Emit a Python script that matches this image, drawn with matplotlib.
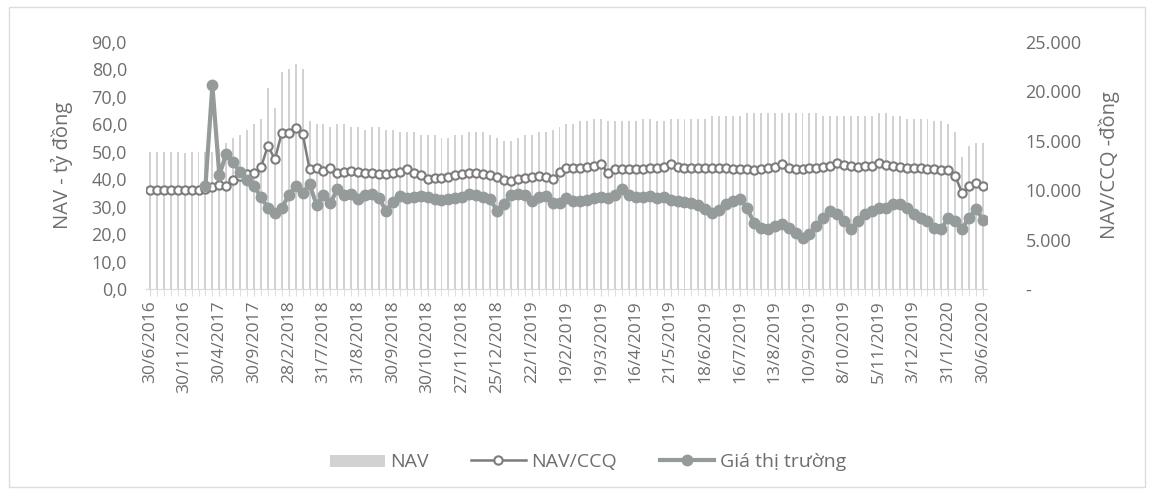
import numpy as np
import matplotlib
matplotlib.use("Agg")
import matplotlib.pyplot as plt
from matplotlib.ticker import FuncFormatter, MultipleLocator
from matplotlib.patches import Rectangle

plt.rcParams['font.family'] = ['Open Sans', 'DejaVu Sans']

# --- data ---
tick_labels = ['30/6/2016', '30/11/2016', '30/4/2017', '30/9/2017', '28/2/2018',
               '31/7/2018', '31/8/2018', '30/9/2018', '30/10/2018', '27/11/2018',
               '25/12/2018', '22/1/2019', '19/2/2019', '19/3/2019', '16/4/2019',
               '21/5/2019', '18/6/2019', '16/7/2019', '13/8/2019', '10/9/2019',
               '8/10/2019', '5/11/2019', '3/12/2019', '31/1/2020', '30/6/2020']

# NAV (ty dong) - bars, left axis
nav = [50, 50, 50, 50, 50, 49.5, 50, 50, 50, 50,
       51, 53, 55, 56, 58, 60, 62, 73, 66, 79,
       80, 82, 80, 61, 60, 60, 59, 60, 60, 59,
       59, 58, 59, 59, 58, 58, 57, 57, 57, 56,
       56, 56, 55, 55, 56, 56, 57, 57, 57, 56,
       55, 54, 54, 55, 56, 56, 57, 57, 58, 59,
       60, 60, 61, 61, 62, 62, 61, 61, 61, 61,
       61, 62, 62, 61, 61, 62, 62, 62, 62, 62,
       62, 63, 63, 63, 63, 63, 64, 64, 64, 64,
       64, 64, 64, 64, 64, 64, 64, 63, 63, 63,
       63, 63, 63, 63, 63, 64, 64, 63, 63, 62,
       62, 62, 62, 61, 61, 60, 57, 48, 52, 53,
       53]

# NAV/CCQ (dong) - right axis
nav_ccq = [10000, 10000, 10000, 10000, 10000, 10000, 10000, 10000, 10100, 10300,
           10500, 10400, 11000, 11400, 11600, 11700, 12300, 14500, 13100, 15800,
           15800, 16300, 15700, 12100, 12200, 11900, 12200, 11700, 11800, 11900,
           11800, 11700, 11700, 11600, 11600, 11700, 11800, 12100, 11700, 11500,
           11100, 11200, 11200, 11300, 11500, 11600, 11700, 11700, 11600, 11500,
           11300, 11000, 10900, 11100, 11200, 11300, 11400, 11300, 11100, 11800,
           12200, 12200, 12200, 12300, 12400, 12600, 11700, 12100, 12100, 12100,
           12100, 12100, 12200, 12200, 12300, 12600, 12300, 12200, 12200, 12200,
           12200, 12200, 12200, 12200, 12100, 12100, 12100, 12000, 12100, 12200,
           12300, 12600, 12200, 12100, 12100, 12200, 12200, 12300, 12400, 12700,
           12500, 12400, 12300, 12400, 12400, 12700, 12500, 12400, 12300, 12200,
           12200, 12200, 12100, 12100, 12000, 12000, 11400, 9700, 10400, 10700,
           10400]

# Gia thi truong (dong) - right axis
gia_tt = [np.nan] * 8 + [
          10400, 20600,
          11500, 13700, 12800, 11800, 11000, 10400, 9300, 8200, 7700, 8200,
          9500, 10400, 9700, 10600, 8500, 9500, 8700, 10100, 9500, 9600,
          9100, 9500, 9600, 9200, 7900, 8800, 9400, 9200, 9300, 9400,
          9300, 9100, 9000, 9100, 9200, 9300, 9600, 9500, 9300, 9100,
          7900, 8600, 9500, 9600, 9500, 8900, 9300, 9400, 8700, 8700,
          9200, 8900, 8900, 9000, 9200, 9300, 9200, 9500, 10100, 9500,
          9300, 9300, 9400, 9200, 9300, 9000, 8900, 8800, 8700, 8500,
          8100, 7700, 8000, 8600, 8900, 9100, 8200, 6700, 6200, 6100,
          6400, 6600, 6200, 5700, 5200, 5600, 6400, 7200, 7900, 7600,
          6900, 6100, 6900, 7600, 7900, 8200, 8200, 8600, 8600, 8200,
          7600, 7200, 6900, 6200, 6100, 7200, 6900, 6100, 7200, 8100,
          7000]

text_col = '#6e6e6e'
x = np.arange(len(nav))

fig = plt.figure(figsize=(11.53, 4.97), dpi=100)
ax = fig.add_axes([0.127, 0.4185, 0.7286, 0.4975])
ax2 = ax.twinx()

# bars - NAV
ax.bar(x, nav, width=0.28, color='#d2d2d2', label='NAV', zorder=1)
ax.set_ylim(0, 90)
ax.set_xlim(-0.5, len(nav) - 0.5)
ax.yaxis.set_major_locator(MultipleLocator(10))
ax.yaxis.set_major_formatter(FuncFormatter(lambda v, p: f"{v:.1f}".replace('.', ',')))

# lines
l1, = ax2.plot(x, nav_ccq, color='#7c7c7c', lw=1.8, marker='o', ms=6,
               mfc='white', mec='#7c7c7c', mew=1.5, label='NAV/CCQ', zorder=3)
l2, = ax2.plot(x, gia_tt, color='#959a9a', lw=3, marker='o', ms=7.5,
               mfc='#959a9a', mec='#959a9a', label='Giá thị trường', zorder=4)
ax2.set_ylim(0, 25000)
ax2.yaxis.set_major_locator(MultipleLocator(5000))
ax2.yaxis.set_major_formatter(FuncFormatter(
    lambda v, p: '-' if v == 0 else f"{int(v):,}".replace(',', '.')))

# x ticks
ax.set_xticks(x[::5])
ax.set_xticklabels(tick_labels, rotation=90)
ax.set_xticks(x, minor=True)
ax.tick_params(axis='x', which='both', length=5, color='#d9d9d9', labelsize=12.5,
               labelcolor=text_col, pad=3)
ax.tick_params(axis='y', length=0, labelsize=13, labelcolor=text_col, pad=14)
ax2.tick_params(axis='y', length=0, labelsize=13, labelcolor=text_col, pad=28)

for a in (ax, ax2):
    for s in a.spines.values():
        s.set_visible(False)
ax.spines['bottom'].set_visible(True)
ax.spines['bottom'].set_color('#d9d9d9')

ax.set_ylabel('NAV - tỷ đồng', fontsize=14.5, color=text_col, labelpad=13)
ax2.set_ylabel('NAV/CCQ -đồng', fontsize=14.5, color=text_col, labelpad=12)

# legend
fig.legend(handles=[ax.containers[0].patches[0], l1, l2],
           labels=['NAV', 'NAV/CCQ', 'Giá thị trường'],
           loc='center', bbox_to_anchor=(0.51, 0.07), ncol=3, frameon=False,
           fontsize=14, labelcolor=text_col, handlelength=2.8, columnspacing=2.2,
           handletextpad=0.3)
leg = fig.legends[0]
leg.legend_handles[0].set_width(40)
leg.legend_handles[0].set_height(9)

# chart area border
fig.patches.append(Rectangle((0.008, 0.02), 0.985, 0.965, transform=fig.transFigure,
                             fill=False, edgecolor='#dcdcdc', lw=1))

fig.savefig('out.png', dpi=100)
